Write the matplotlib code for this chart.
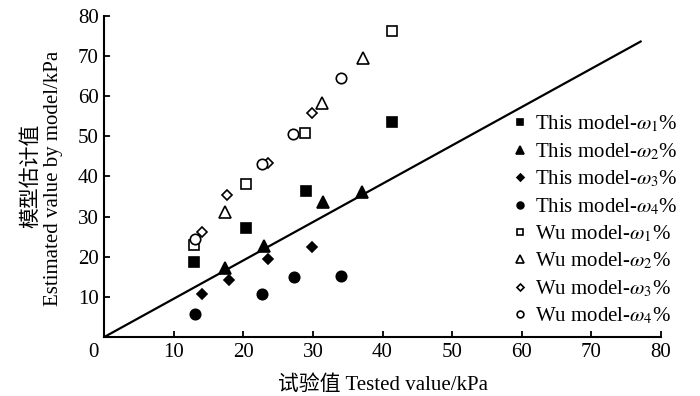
import matplotlib
matplotlib.use('Agg')
import matplotlib.pyplot as plt
import matplotlib.transforms as mtransforms

plt.rcParams['font.family'] = ['Liberation Serif', 'Noto Sans CJK SC']
plt.rcParams['mathtext.fontset'] = 'stix'

# tested values (x) and estimated values (y)
this_w1_x = [12.9, 20.4, 29.0, 41.4]
this_w1_y = [18.6, 27.2, 36.3, 53.6]
this_w2_x = [17.3, 22.9, 31.4, 37.1]
this_w2_y = [17.2, 22.6, 33.6, 36.1]
this_w3_x = [14.0, 17.9, 23.5, 29.9]
this_w3_y = [10.7, 14.2, 19.5, 22.3]
this_w4_x = [13.1, 22.7, 27.2, 34.0]
this_w4_y = [5.8, 10.8, 15.0, 15.1]

wu_w1_x = [12.9, 20.3, 28.9, 41.3]
wu_w1_y = [22.8, 38.2, 50.9, 76.2]
wu_w2_x = [17.3, 31.3, 37.2]
wu_w2_y = [31.2, 58.2, 69.4]
wu_w3_x = [14.0, 17.7, 23.5, 29.9]
wu_w3_y = [26.1, 35.3, 43.3, 55.8]
wu_w4_x = [13.0, 22.7, 27.1, 34.0]
wu_w4_y = [24.3, 43.1, 50.5, 64.5]

line_x = [0, 77.1]
line_y = [0, 73.6]

series = [
    (this_w1_x, this_w1_y, 's', True, r'This model-$\omega_1$%'),
    (this_w2_x, this_w2_y, '^', True, r'This model-$\omega_2$%'),
    (this_w3_x, this_w3_y, 'D', True, r'This model-$\omega_3$%'),
    (this_w4_x, this_w4_y, 'o', True, r'This model-$\omega_4$%'),
    (wu_w1_x, wu_w1_y, 's', False, r'Wu model-$\omega_1$%'),
    (wu_w2_x, wu_w2_y, '^', False, r'Wu model-$\omega_2$%'),
    (wu_w3_x, wu_w3_y, 'D', False, r'Wu model-$\omega_3$%'),
    (wu_w4_x, wu_w4_y, 'o', False, r'Wu model-$\omega_4$%'),
]
sizes = {'s': 7.5, '^': 8, 'D': 5.5, 'o': 7.5}

fig = plt.figure(figsize=(7, 3.96), dpi=100)
ax = fig.add_axes([0.149, 0.149, 0.795, 0.811])

ax.plot(line_x, line_y, color='black', lw=1.6, zorder=1)
for x, y, m, filled, lab in series:
    ax.plot(x, y, linestyle='none', marker=m, markersize=sizes[m],
            markerfacecolor='black' if filled else 'white',
            markeredgecolor='black', markeredgewidth=1.2, label=lab, zorder=3)

ax.set_xlim(0, 80)
ax.set_ylim(0, 80)
ax.set_xticks(range(0, 81, 10))
ax.set_yticks(range(0, 81, 10))
ax.set_yticklabels([''] + [str(v) for v in range(10, 81, 10)])
ax.tick_params(direction='in', length=4, width=1.3, labelsize=15, pad=4)
for lab in ax.get_xticklabels()[:1]:
    lab.set_transform(lab.get_transform() + mtransforms.ScaledTranslation(-0.11, 0, fig.dpi_scale_trans))

for s in ['top', 'right']:
    ax.spines[s].set_visible(False)
for s in ['left', 'bottom']:
    ax.spines[s].set_linewidth(1.5)

ax.set_xlabel('试验值 Tested value/kPa', fontsize=15, labelpad=10)

# two-line y label, drawn as separate lines
fig.text(32 / 700, 1 - 176 / 396, '模型估计值', rotation=90, fontsize=15,
         ha='center', va='center')
fig.text(54 / 700, 1 - 178 / 396, 'Estimated value by model/kPa', rotation=90,
         fontsize=15, ha='center', va='center')

ax.legend(loc='upper left', bbox_to_anchor=(0.734, 0.712), bbox_transform=fig.transFigure,
          frameon=False, fontsize=15, markerscale=0.65, handlelength=0.6,
          handletextpad=0.4, labelspacing=0.32, borderpad=0, borderaxespad=0)

fig.savefig('out.png', dpi=100)
